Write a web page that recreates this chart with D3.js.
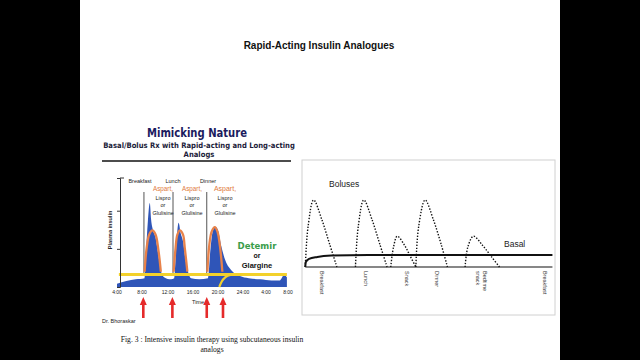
<!DOCTYPE html>
<html><head><meta charset="utf-8">
<script src="https://cdn.jsdelivr.net/npm/d3@7"></script>
<style>html,body{margin:0;padding:0;background:#000;}svg{display:block;}</style>
</head><body>
<svg id="c" width="640" height="360"></svg>
<script>
// ---------- DATA ----------
const slideTitle = "Rapid-Acting Insulin Analogues";
const leftTitle = "Mimicking Nature";
const leftSubtitle = ["Basal/Bolus Rx with Rapid-acting and Long-acting", "Analogs"];
const timeTicks = [4, 8, 12, 16, 20, 24, 28, 32];
const timeTickLabels = ["4:00", "8:00", "12:00", "16:00", "20:00", "24:00", "4:00", "8:00"];
const meals = ["Breakfast", "Lunch", "Dinner"];
const injectionTimes = [8.3, 12.8, 18.2];
const arrowTimes = [8.2, 12.7, 18.2, 20.8];
// plasma insulin (physiological), [hour, relative level]
const plasmaInsulin = [[4,3],[5.5,5.5],[7,7],[8.4,8],[8.6,30],[8.9,60],[9.2,77],[9.4,62],[9.7,52],[10.1,45],[10.5,30],[10.9,15],[11.4,9],[12.5,7],
  [13.0,8],[13.3,35],[13.7,59],[14.0,50],[14.4,42],[14.8,25],[15.2,14],[15.7,8],[17,7],[18.4,8],
  [18.8,35],[19.2,52],[19.6,55],[20.0,52],[20.5,38],[21.2,24],[22.2,15],[23.5,10],[25,8],[27,7],[29,6],[30.5,6],[31.3,11],[31.8,9]];
// rapid-acting analog profiles
const analogBreakfast = [[8.4,14],[8.7,35],[9.1,48],[9.6,52],[10.1,48],[10.5,35],[10.9,14]];
const analogLunch = [[12.9,14],[13.2,35],[13.5,48],[13.9,52],[14.4,48],[14.7,35],[15.1,14]];
const analogDinner = [[18.3,14],[18.6,38],[19.0,51],[19.5,55],[19.9,51],[20.3,38],[20.7,14]];
const basalLevel = 11.5;
const glargineOnset = [[20.2,0],[20.6,5],[21.2,9],[22,11],[23,11.5]];
const yTicks = [35, 70];
const caption = ["Fig. 3 : Intensive insulin therapy using subcutaneous insulin", "analogs"];

// right chart
const rightLabels = [["Breakfast"], ["Lunch"], ["Snack"], ["Dinner"], ["Bedtime", "snack"], ["Breakfast"]];
const rightLabelTimes = [7, 11.7, 16.2, 19.4, 24, 31];
const boluses = [
  [[5.2,0],[5.5,60],[6.1,100],[7.0,70],[7.8,35],[8.6,0]],
  [[10.6,0],[10.9,60],[11.5,100],[12.4,70],[13.2,35],[14.0,0]],
  [[14.4,0],[14.7,30],[15.1,46],[15.9,32],[16.5,16],[17.1,0]],
  [[17.1,0],[17.4,60],[18.1,100],[19.0,70],[19.8,35],[20.5,0]],
  [[22.4,0],[22.7,30],[23.3,46],[24.3,32],[25.2,16],[26.1,0]]
];
const basal = [[5.2,0],[5.25,7],[5.6,12],[6.5,15],[8,17],[12,18],[31.8,18]];

// ---------- DRAW ----------
const svg = d3.select("#c");
svg.append("rect").attr("x",80).attr("y",0).attr("width",480).attr("height",360).attr("fill","#fff");

svg.append("text").attr("x",319).attr("y",49).attr("text-anchor","middle")
  .attr("font-family","Liberation Sans, Arial").attr("font-weight","bold").attr("font-size",10).attr("fill","#111").text(slideTitle);

// left figure
const L = svg.append("g");
L.append("text").attr("x",197).attr("y",137).attr("text-anchor","middle")
  .attr("font-family","DejaVu Sans Condensed, DejaVu Sans").attr("font-weight","bold").attr("font-size",13)
  .attr("textLength",100).attr("lengthAdjust","spacingAndGlyphs")
  .attr("fill","#1b1b5e").text(leftTitle);
leftSubtitle.forEach((s,i)=>{
  L.append("text").attr("x",199).attr("y",148+i*9).attr("text-anchor","middle")
   .attr("font-family","DejaVu Sans Condensed, DejaVu Sans").attr("font-weight","bold").attr("font-size",7.6)
   .attr("fill","#1c1c3a").text(s);
});
L.append("line").attr("x1",102).attr("x2",291).attr("y1",161).attr("y2",161).attr("stroke","#111").attr("stroke-width",1.4);

const x = d3.scaleLinear().domain(timeTicks).range([117,142,168,193,218,243,266,288]);
const y = d3.scaleLinear().domain([0,100]).range([287,178]);

const area = d3.area().x(d=>x(d[0])).y0(y(0)).y1(d=>y(d[1])).curve(d3.curveMonotoneX);
L.append("path").datum(plasmaInsulin).attr("d",area).attr("fill","#2f55b8");

// injection lines
injectionTimes.forEach(t=>{
  L.append("line").attr("x1",x(t)).attr("x2",x(t)).attr("y1",192).attr("y2",y(basalLevel)).attr("stroke","#555").attr("stroke-width",1);
});

// basal yellow
L.append("line").attr("x1",x(4.3)).attr("x2",x(31.8)).attr("y1",y(basalLevel)).attr("y2",y(basalLevel))
  .attr("stroke","#f3d12b").attr("stroke-width",3);
const line = d3.line().x(d=>x(d[0])).y(d=>y(d[1])).curve(d3.curveCatmullRom);
L.append("path").datum(glargineOnset).attr("d",d3.line().x(d=>x(d[0])).y(d=>y(d[1])).curve(d3.curveMonotoneX))
  .attr("fill","none").attr("stroke","#f3d12b").attr("stroke-width",2.2);

[analogBreakfast, analogLunch, analogDinner].forEach(a=>{
  L.append("path").datum(a).attr("d",line).attr("fill","none").attr("stroke","#e8824a").attr("stroke-width",2.3);
});

// y axis
const yAxis = d3.axisLeft(y).tickValues(yTicks).tickSize(3).tickFormat("");
const ga = L.append("g").attr("transform","translate(120,0)").call(yAxis);
ga.selectAll("path,line").attr("stroke","#333");
L.append("line").attr("x1",120).attr("x2",124).attr("y1",178).attr("y2",178).attr("stroke","#333");
L.append("text").attr("transform","translate(112,230) rotate(-90)").attr("text-anchor","middle")
  .attr("font-family","Liberation Sans, Arial").attr("font-weight","bold").attr("font-size",5.5).attr("fill","#222").text("Plasma insulin");

// x labels
timeTicks.forEach((t,i)=>{
  L.append("text").attr("x",x(t)).attr("y",294).attr("text-anchor","middle")
   .attr("font-family","Liberation Sans, Arial").attr("font-size",5).attr("fill","#222").text(timeTickLabels[i]);
});
L.append("text").attr("x",198).attr("y",304).attr("text-anchor","middle")
  .attr("font-family","Liberation Sans, Arial").attr("font-size",5.5).attr("fill","#222").text("Time");

// meal labels
const mealX = [140, 173, 208];
meals.forEach((m,i)=>{
  L.append("text").attr("x",mealX[i]).attr("y",183).attr("text-anchor","middle")
   .attr("font-family","Liberation Sans, Arial").attr("font-size",5.5).attr("fill","#222").text(m);
});
const analogX = [163, 192, 225];
analogX.forEach((ax,i)=>{
  L.append("text").attr("x",ax).attr("y",191).attr("text-anchor","middle")
   .attr("font-family","Liberation Sans, Arial").attr("font-size",i==2?7:6.3).attr("fill","#e07a3c").text("Aspart,");
  ["Lispro","or","Glulisine"].forEach((s,j)=>{
    L.append("text").attr("x",ax).attr("y",199.5+j*7.5).attr("text-anchor","middle")
     .attr("font-family","Liberation Sans, Arial").attr("font-size",5.5).attr("fill","#222").text(s);
  });
});
L.append("text").attr("x",257).attr("y",249).attr("text-anchor","middle")
  .attr("font-family","DejaVu Sans Condensed, DejaVu Sans").attr("font-weight","bold").attr("font-size",9.5).attr("fill","#3a9d4a").text("Detemir");
L.append("text").attr("x",257).attr("y",258).attr("text-anchor","middle")
  .attr("font-family","Liberation Sans, Arial").attr("font-weight","bold").attr("font-size",7).attr("fill","#111").text("or");
L.append("text").attr("x",257).attr("y",268).attr("text-anchor","middle")
  .attr("font-family","Liberation Sans, Arial").attr("font-weight","bold").attr("font-size",7.5).attr("fill","#111").text("Glargine");

// red arrows
arrowTimes.forEach(t=>{
  const cx = x(t);
  L.append("path").attr("d",`M${cx},297 L${cx+3.5},305 L${cx+1.3},305 L${cx+1.3},318 L${cx-1.3},318 L${cx-1.3},305 L${cx-3.5},305 Z`)
   .attr("fill","#e52a2a");
});
L.append("text").attr("x",102).attr("y",323).attr("font-family","Liberation Sans, Arial").attr("font-size",5.5).attr("fill","#222").text("Dr. Bhoraskar");
caption.forEach((c,i)=>{
  L.append("text").attr("x",212).attr("y",342+i*10).attr("text-anchor","middle")
   .attr("font-family","Liberation Serif, Times New Roman").attr("font-size",7.6).attr("fill","#111").text(c);
});

// right figure
const R = svg.append("g");
R.append("rect").attr("x",302).attr("y",160).attr("width",253).attr("height",155).attr("fill","#fff").attr("stroke","#d0d0d0").attr("stroke-width",1);
const xr = d3.scaleLinear().domain([7,31]).range([322,545]);
const yr = d3.scaleLinear().domain([0,100]).range([267,200]);
R.append("line").attr("x1",xr(5.2)).attr("x2",xr(31.8)).attr("y1",yr(0)).attr("y2",yr(0)).attr("stroke","#111").attr("stroke-width",1.2);
const lr = d3.line().x(d=>xr(d[0])).y(d=>yr(d[1])).curve(d3.curveCatmullRom);
boluses.forEach(b=>{
  R.append("path").datum(b).attr("d",lr).attr("fill","none").attr("stroke","#111").attr("stroke-width",1.4).attr("stroke-dasharray","1.4,1.6");
});
R.append("path").datum(basal).attr("d",d3.line().x(d=>xr(d[0])).y(d=>yr(d[1])).curve(d3.curveMonotoneX))
  .attr("fill","none").attr("stroke","#111").attr("stroke-width",2);
R.append("text").attr("x",329).attr("y",187).attr("font-family","Liberation Sans Narrow, Liberation Sans, Arial").attr("font-size",8.5).attr("fill","#222").text("Boluses");
R.append("text").attr("x",504).attr("y",247).attr("font-family","Liberation Sans Narrow, Liberation Sans, Arial").attr("font-size",8.5).attr("fill","#222").text("Basal");
rightLabels.forEach((lab,i)=>{
  const t = R.append("text").attr("transform",`translate(${xr(rightLabelTimes[i])+(lab.length>1?3:-2)},271) rotate(90)`)
    .attr("font-family","Liberation Sans Narrow, Liberation Sans, Arial").attr("font-size",5.5).attr("fill","#333");
  lab.forEach((s,j)=>t.append("tspan").attr("x",0).attr("dy",j?6.5:0).text(s));
});
</script>
</body></html>
